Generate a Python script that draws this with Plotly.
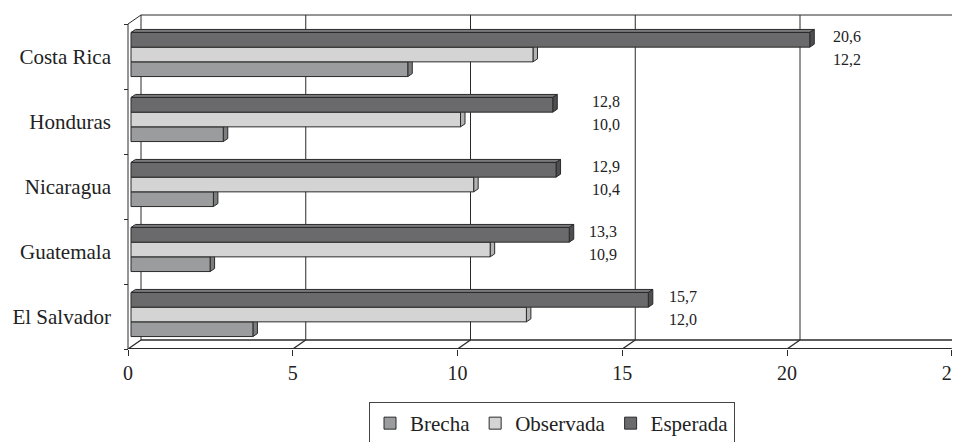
import plotly.graph_objects as go

# ---------------- data ----------------
categories = ["Costa Rica", "Honduras", "Nicaragua", "Guatemala", "El Salvador"]
esperada = [20.6, 12.8, 12.9, 13.3, 15.7]
observada = [12.2, 10.0, 10.4, 10.9, 12.0]
brecha = [8.4, 2.8, 2.5, 2.4, 3.7]
x_ticks = [0, 5, 10, 15, 20, 25]

# ---------------- layout constants (pixels -> data units) ----------------
PAGE = 8              # browser body margin
W, H = 960 - PAGE, 442 - PAGE
PX_X = 32.95          # px per x unit
PX_Y = 65.0           # px per category
X0_PX = 128.0 - PAGE  # pixel of x=0 on the front plane
FLOOR_PX = 349.0 - PAGE
TOP_PX = 2.0
n = len(categories)

x_lo = -X0_PX / PX_X
x_hi = (W - X0_PX) / PX_X
y_lo = -0.5
y_hi = (n - 0.5) + (FLOOR_PX - (n * PX_Y) - TOP_PX) / PX_Y
PLOT_H = FLOOR_PX - TOP_PX

WDX = 13 / PX_X       # wall depth
WDY = 9 / PX_Y
BDX = 4.5 / PX_X      # bar depth
BDY = 3 / PX_Y
BASE = 3 / PX_X       # bar front plane shift
SHIFT_Y = 2 / PX_Y
BAR_W = 14.7 / PX_Y
LABEL_GAP_PX = [21, 37, 34, 18, 19]

FONT = "Liberation Serif"
INK = "#222222"
EDGE = "#2a2a2a"

series = [
    ("Brecha", brecha, "#9b9c9e", "#aaabac", "#7c7d7f", SHIFT_Y - 1.5 * BAR_W),
    ("Observada", observada, "#d4d4d4", "#e2e2e2", "#b2b2b2", SHIFT_Y - 0.5 * BAR_W),
    ("Esperada", esperada, "#6a6a6c", "#7b7b7d", "#4e4e50", SHIFT_Y + 0.5 * BAR_W),
]

ypos = [n - 1 - i for i in range(n)]

fig = go.Figure()
shapes = []

def line(x0, y0, x1, y1, w=1.0):
    shapes.append(dict(type="line", xref="x", yref="y", x0=x0, y0=y0, x1=x1, y1=y1,
                       line=dict(color=EDGE, width=w), layer="below"))

# walls and floor
top_y = (n - 0.5)
line(0, y_lo, 0, top_y)
line(0, top_y, WDX, top_y + WDY)
line(WDX, top_y + WDY, x_ticks[-1] + WDX + 1, top_y + WDY)
line(0, y_lo, x_ticks[-1], y_lo, 2)
line(WDX, y_lo + WDY, x_ticks[-1] + WDX + 1, y_lo + WDY, 1.6)
for v in x_ticks:
    line(v, y_lo, v + WDX, y_lo + WDY, 1.3)
    line(v + WDX, y_lo + WDY, v + WDX, top_y + WDY)

# 3D top and end faces of the bars
for name, vals, face, topc, side, off in series:
    for v, y in zip(vals, ypos):
        x0 = BASE
        x1 = BASE + v
        yb = y + off
        yt = y + off + BAR_W
        shapes.append(dict(type="path", xref="x", yref="y", layer="below",
                           path=f"M{x0},{yt} L{x0 + BDX},{yt + BDY} L{x1 + BDX},{yt + BDY} L{x1},{yt} Z",
                           fillcolor=topc, line=dict(color=EDGE, width=1)))
        shapes.append(dict(type="path", xref="x", yref="y", layer="below",
                           path=f"M{x1},{yb} L{x1},{yt} L{x1 + BDX},{yt + BDY} L{x1 + BDX},{yb + BDY} Z",
                           fillcolor=side, line=dict(color=EDGE, width=1)))

for name, vals, face, topc, side, off in series:
    fig.add_trace(go.Bar(
        name=name, orientation="h", y=ypos, x=vals, base=BASE,
        offset=off, width=BAR_W,
        marker=dict(color=face, line=dict(color=EDGE, width=1)),
        hoverinfo="skip",
    ))

annotations = []
for i, y in enumerate(ypos):
    xl = BASE + esperada[i] + LABEL_GAP_PX[i] / PX_X
    annotations.append(dict(x=xl, y=y + SHIFT_Y + BAR_W + 3.5 / PX_Y, xref="x", yref="y",
                            text=f"{esperada[i]:.1f}".replace(".", ","), showarrow=False,
                            xanchor="left", yanchor="middle",
                            font=dict(family=FONT, size=16, color=INK)))
    annotations.append(dict(x=xl, y=y + SHIFT_Y - 5 / PX_Y, xref="x", yref="y",
                            text=f"{observada[i]:.1f}".replace(".", ","), showarrow=False,
                            xanchor="left", yanchor="middle",
                            font=dict(family=FONT, size=16, color=INK)))

fig.update_layout(
    template="none",
    width=W, height=H,
    margin=dict(l=0, r=0, t=TOP_PX, b=H - FLOOR_PX, autoexpand=False),
    paper_bgcolor="white", plot_bgcolor="white",
    barmode="overlay",
    shapes=shapes, annotations=annotations,
    font=dict(family=FONT, color=INK),
    showlegend=True,
    legend=dict(orientation="h", x=(552 - PAGE) / W, xanchor="center",
                y=-(402 - PAGE - FLOOR_PX) / PLOT_H, yanchor="top",
                bordercolor="#444444", borderwidth=1, font=dict(family=FONT, size=21, color=INK),
                bgcolor="white", traceorder="normal"),
    xaxis=dict(range=[x_lo, x_hi], tickvals=x_ticks, ticktext=[str(t) for t in x_ticks],
               ticks="outside", ticklen=6, tickcolor=EDGE, showgrid=False, zeroline=False,
               showline=False, automargin=False, ticklabeloverflow="allow",
               tickfont=dict(family=FONT, size=20, color=INK), fixedrange=True),
    yaxis=dict(range=[y_lo, y_hi], anchor="free", position=X0_PX / W,
               tickvals=ypos, ticktext=categories, ticks="", showgrid=False, zeroline=False,
               showline=False, ticklabelstandoff=17, automargin=False, ticklabeloverflow="allow",
               minor=dict(tickvals=[k - 0.5 for k in range(n + 1)], ticks="outside", ticklen=4,
                          tickcolor=EDGE, showgrid=False),
               tickfont=dict(family=FONT, size=21, color=INK), fixedrange=True),
)

fig.write_html("out.html")
